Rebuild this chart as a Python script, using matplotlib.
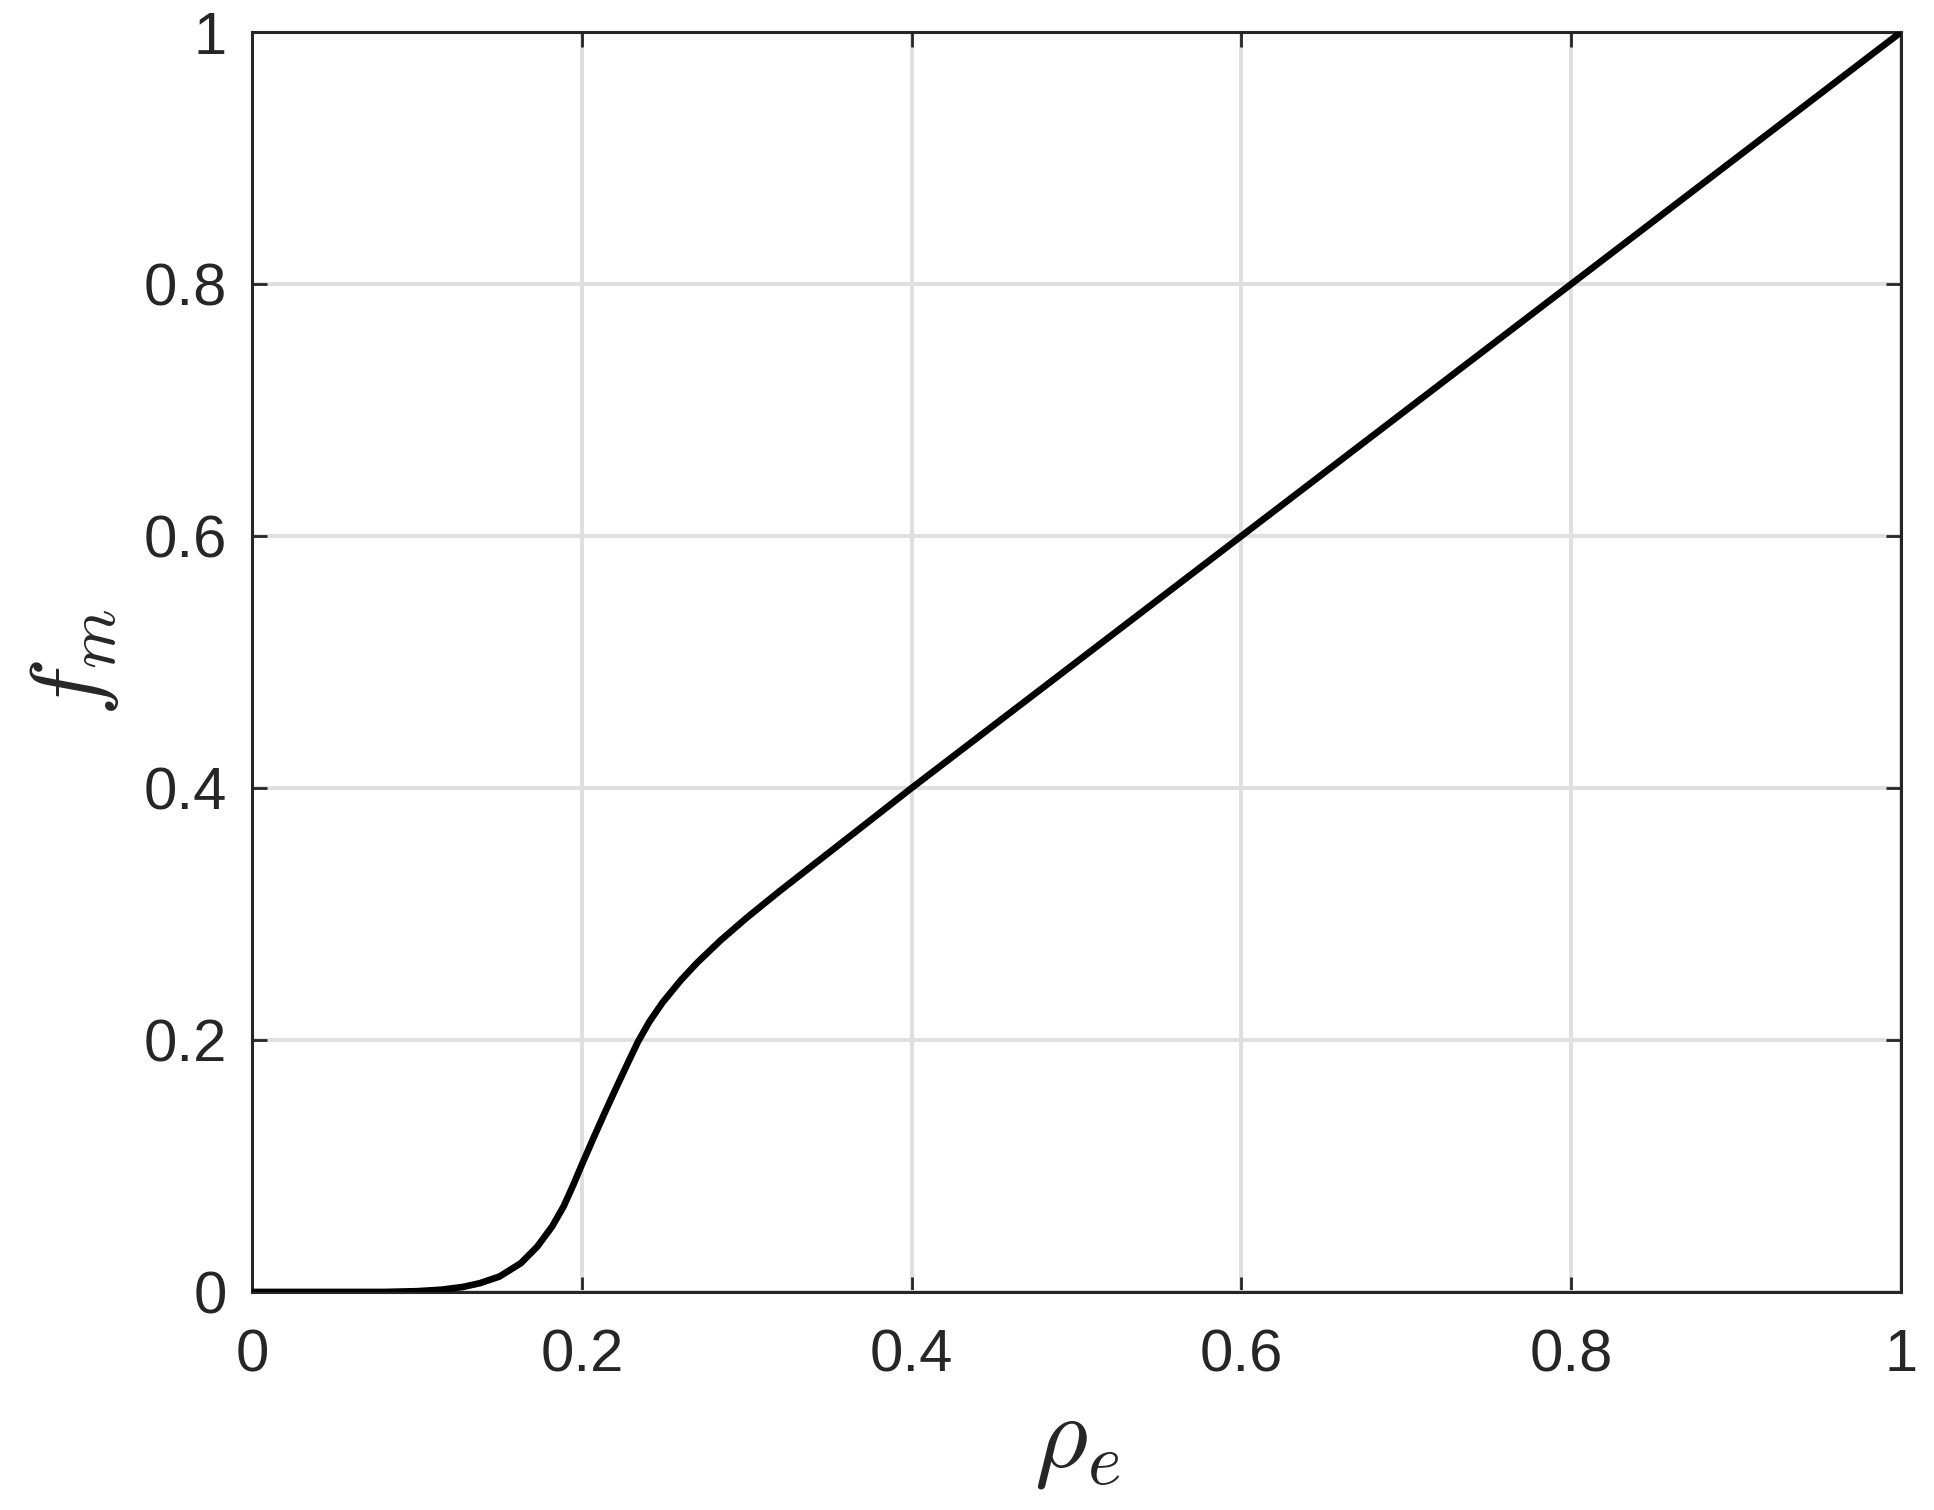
import numpy as np
import matplotlib.pyplot as plt

# valeurs
rho_e = [0.0, 0.05, 0.08, 0.100, 0.115, 0.128, 0.138, 0.150, 0.163, 0.173, 0.182,
         0.189, 0.195, 0.200, 0.207, 0.214, 0.221, 0.228, 0.234, 0.241, 0.249,
         0.260, 0.270, 0.284, 0.300, 0.320, 0.348, 0.380, 0.400, 0.600, 0.800, 1.0]
f_m = [0.0, 0.0, 0.0, 0.0006, 0.0018, 0.0040, 0.0069, 0.0122, 0.0228, 0.036, 0.052,
       0.068, 0.0855, 0.101, 0.122, 0.1425, 0.1625, 0.182, 0.1985, 0.2146, 0.2298,
       0.2474, 0.2614, 0.2789, 0.297, 0.3182, 0.3468, 0.3795, 0.400, 0.600, 0.800, 1.0]
ticks = [0, 0.2, 0.4, 0.6, 0.8, 1]
tick_labels = ['0', '0.2', '0.4', '0.6', '0.8', '1']

plt.rcParams['font.family'] = ['Liberation Sans', 'DejaVu Sans']
plt.rcParams['mathtext.fontset'] = 'cm'

fig = plt.figure(figsize=(9.67, 7.55), dpi=200)
ax = fig.add_axes([0.1303, 0.1444, 0.8527, 0.8344])

ax.plot(rho_e, f_m, color='black', linewidth=2.4, zorder=3,
        solid_joinstyle='round')

ax.set_xlim(0, 1)
ax.set_ylim(0, 1)
ax.set_xticks(ticks, tick_labels)
ax.set_yticks(ticks, tick_labels)
ax.grid(True, color='#dfdfdf', linewidth=1.4, zorder=0)
ax.set_axisbelow(True)

ax.tick_params(direction='in', length=5.5, width=1.0, top=True, right=True,
               labelsize=21.5, colors='#262626')
ax.tick_params(axis='y', pad=9)
ax.tick_params(axis='x', pad=13)
for s in ax.spines.values():
    s.set_color('#262626')
    s.set_linewidth(1.1)

ax.set_xlabel(r'$\rho_e$', fontsize=37, color='#262626', labelpad=4)
ax.set_ylabel(r'$f_m$', fontsize=35, color='#262626', labelpad=8)

fig.savefig('out.png', dpi=200)
